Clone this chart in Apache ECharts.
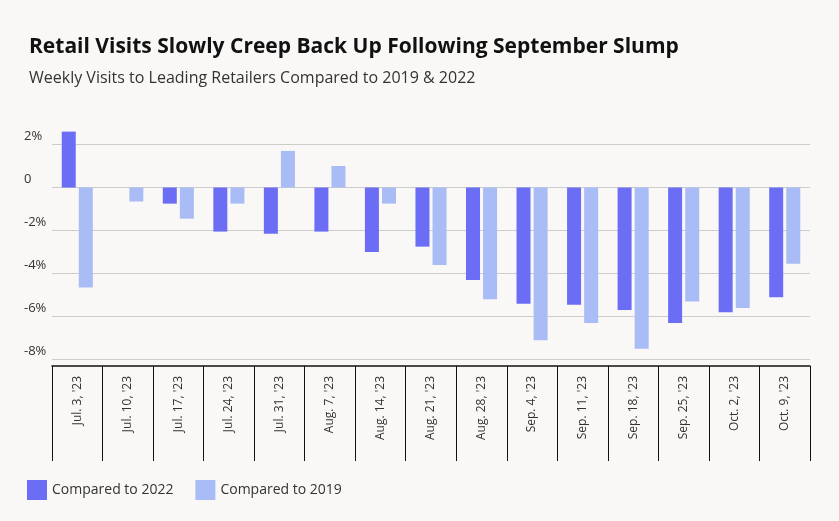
<!DOCTYPE html>
<html><head><meta charset="utf-8">
<script src="https://cdn.jsdelivr.net/npm/echarts@6/dist/echarts.min.js"></script>
<style>html,body{margin:0;background:#f9f8f7}#c{width:839px;height:521px}</style>
</head><body><div id="c"></div>
<script>
var weeks = ["Jul. 3, '23","Jul. 10, '23","Jul. 17, '23","Jul. 24, '23","Jul. 31, '23","Aug. 7, '23","Aug. 14, '23","Aug. 21, '23","Aug. 28, '23","Sep. 4, '23","Sep. 11, '23","Sep. 18, '23","Sep. 25, '23","Oct. 2, '23","Oct. 9, '23"];
var vs2022 = [2.6, 0, -0.75, -2.05, -2.15, -2.05, -3.0, -2.75, -4.3, -5.4, -5.45, -5.7, -6.3, -5.8, -5.1];
var vs2019 = [-4.65, -0.65, -1.45, -0.75, 1.7, 1.0, -0.75, -3.6, -5.2, -7.1, -6.3, -7.5, -5.3, -5.6, -3.55];
var yTicks = [-8, -6, -4, -2, 0, 2];

var chart = echarts.init(document.getElementById('c'));
chart.setOption({
  backgroundColor: '#f9f8f7',
  textStyle: { fontFamily: 'Open Sans' },
  title: [
    { text: 'Retail Visits Slowly Creep Back Up Following September Slump', left: 24, top: 32,
      textStyle: { fontSize: 21, fontWeight: 'bold', color: '#111' } },
    { text: 'Weekly Visits to Leading Retailers Compared to 2019 & 2022', left: 24, top: 65,
      textStyle: { fontSize: 16, fontWeight: 'normal', color: '#333' } }
  ],
  legend: {
    left: 22, bottom: 16, itemWidth: 20, itemHeight: 20, icon: 'rect', itemGap: 22,
    textStyle: { fontSize: 14, color: '#333' }
  },
  grid: { left: 52, right: 29, top: 123, bottom: 155 },
  xAxis: {
    type: 'category', data: weeks,
    axisLine: { onZero: false, lineStyle: { color: '#111', width: 1.5 } },
    axisTick: { show: true, interval: 0, length: 95, lineStyle: { color: '#111' } },
    axisLabel: { interval: 0, rotate: 90, fontSize: 12, color: '#333', margin: 10 }
  },
  yAxis: {
    type: 'value', min: -8.3, max: 3,
    axisLine: { show: false },
    axisTick: { show: false, customValues: yTicks },
    axisLabel: { customValues: yTicks, fontSize: 13, color: '#333', align: 'left', margin: 28,
      verticalAlign: 'bottom', padding: [0, 0, 2, 0],
      formatter: function (v) { return v === 0 ? '0' : v + '%'; } },
    splitLine: { lineStyle: { color: '#ccc' } }
  },
  series: [
    { name: 'Compared to 2022', type: 'bar', data: vs2022, barWidth: 14, barGap: '22%',
      itemStyle: { color: '#6b6ef5' } },
    { name: 'Compared to 2019', type: 'bar', data: vs2019, barWidth: 14,
      itemStyle: { color: '#a9bcf6' } }
  ]
});
</script></body></html>
